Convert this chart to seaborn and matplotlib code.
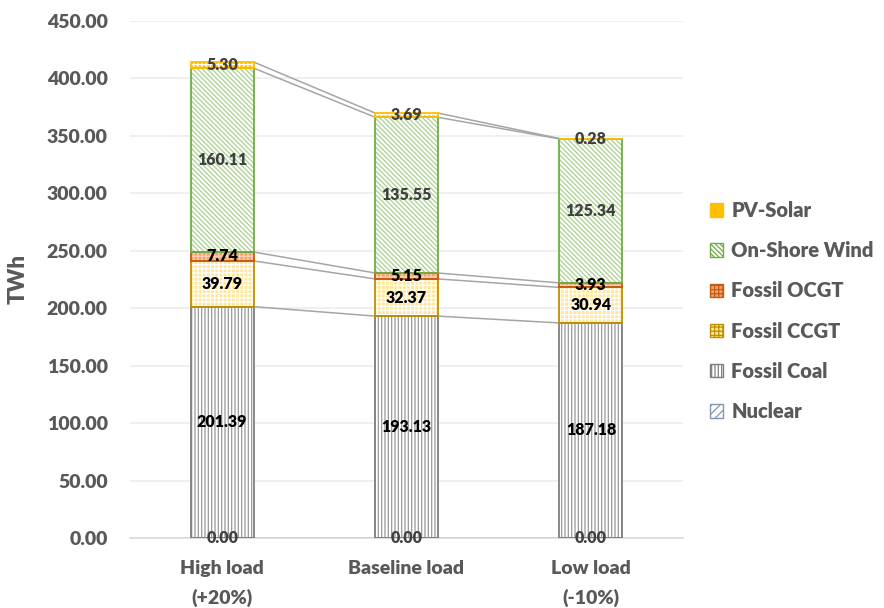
import matplotlib
matplotlib.use("Agg")
import matplotlib.pyplot as plt
from matplotlib.patches import Patch
import pandas as pd
import seaborn as sns

# Scenario categories and annual generation per technology (TWh)
scenarios = ["High load\n(+20%)", "Baseline load", "Low load\n(-10%)"]
nuclear = [0.00, 0.00, 0.00]
fossil_coal = [201.39, 193.13, 187.18]
fossil_ccgt = [39.79, 32.37, 30.94]
fossil_ocgt = [7.74, 5.15, 3.93]
onshore_wind = [160.11, 135.55, 125.34]
pv_solar = [5.30, 3.69, 0.28]
y_ticks = [0, 50, 100, 150, 200, 250, 300, 350, 400, 450]

series_names = ["Nuclear", "Fossil Coal", "Fossil CCGT", "Fossil OCGT",
                "On-Shore Wind", "PV-Solar"]
series_values = [nuclear, fossil_coal, fossil_ccgt, fossil_ocgt,
                 onshore_wind, pv_solar]

# fill colour, hatch, hatch colour, outline colour, label colour
styles = {
    "Nuclear":       ("white",   "////",     "#8497B0", "#8497B0", "#404040"),
    "Fossil Coal":   ("white",   "|||||",    "#9A9A9A", "#7F7F7F", "#000000"),
    "Fossil CCGT":   ("#FFE699", "++++",     "white",   "#BF9000", "#000000"),
    "Fossil OCGT":   ("#F4A070", "++++",     "#FAD2B8", "#C55A11", "#000000"),
    "On-Shore Wind": ("white",   "\\" * 7,   "#A9D18E", "#70AD47", "#404040"),
    "PV-Solar":      ("#FFC000", "++++",     "white",   "#FFC000", "#404040"),
}

HEAVY = 800

sns.set_style("white")
plt.rcParams["font.family"] = ["Lato", "DejaVu Sans"]
plt.rcParams["hatch.linewidth"] = 0.9

fig = plt.figure(figsize=(8.84, 6.08), dpi=100)
ax = fig.add_axes([130 / 884, 1 - 538 / 608, (683 - 130) / 884, (538 - 21) / 608])

bar_w = 0.34
bottoms = [0.0, 0.0, 0.0]
stack_info = []
for name, vals in zip(series_names, series_values):
    face, hatch, hcol, border, lcol = styles[name]
    df = pd.DataFrame({"scenario": scenarios, "twh": vals})
    sns.barplot(data=df, x="scenario", y="twh", order=scenarios,
                bottom=list(bottoms), width=bar_w, color=face, saturation=1,
                errorbar=None, ax=ax)
    for p in ax.containers[-1]:
        p.set_facecolor(face)
        p.set_edgecolor(hcol)
        p.set_linewidth(0)
        p.set_hatch(hatch)
        p.set_zorder(2)
    stack_info.append((name, list(bottoms), list(vals)))
    bottoms = [b + v for b, v in zip(bottoms, vals)]

# outlines on top of the hatched fills
for name, bots, vals in stack_info:
    face, hatch, hcol, border, lcol = styles[name]
    df = pd.DataFrame({"scenario": scenarios, "twh": vals})
    sns.barplot(data=df, x="scenario", y="twh", order=scenarios,
                bottom=bots, width=bar_w, color=face, saturation=1,
                errorbar=None, ax=ax)
    for p in ax.containers[-1]:
        p.set_facecolor("none")
        p.set_edgecolor(border)
        p.set_linewidth(1.3)
        p.set_zorder(3)

# series lines joining the top of each stacked segment
for name, bots, vals in stack_info:
    tops = [b + v for b, v in zip(bots, vals)]
    for i in range(len(scenarios) - 1):
        ax.plot([i + bar_w / 2, i + 1 - bar_w / 2], [tops[i], tops[i + 1]],
                color="#A5A5A5", lw=1.1, zorder=1.5, solid_capstyle="butt")

# value labels centred in every segment
for name, bots, vals in stack_info:
    lcol = styles[name][4]
    for i, (b, v) in enumerate(zip(bots, vals)):
        ax.text(i, b + v / 2, f"{v:.2f}", ha="center", va="center",
                fontsize=11.5, fontweight=HEAVY, color=lcol, zorder=5)

ax.set_ylim(0, 450)
ax.set_xlim(-0.5, 2.5)
ax.set_yticks(y_ticks)
ax.set_yticklabels([f"{t:.2f}" for t in y_ticks])
ax.set_xlabel("")
ax.set_ylabel("TWh", fontsize=16, fontweight=HEAVY, color="#595959", labelpad=13)
ax.tick_params(axis="y", length=0, pad=16, labelsize=14, labelcolor="#595959")
ax.tick_params(axis="x", length=0, pad=16, labelsize=14, labelcolor="#595959")
for lbl in ax.get_yticklabels():
    lbl.set_fontweight(HEAVY)
for lbl in ax.get_xticklabels():
    lbl.set_fontweight(HEAVY)
    lbl.set_linespacing(1.75)
for s in ["top", "right", "left"]:
    ax.spines[s].set_visible(False)
ax.spines["bottom"].set_color("#D9D9D9")
ax.spines["bottom"].set_linewidth(1.2)
ax.yaxis.grid(True, color="#EBEBEB", lw=1.1)
ax.set_axisbelow(True)

handles = []
for name in reversed(series_names):
    face, hatch, hcol, border, lcol = styles[name]
    handles.append(Patch(facecolor=face, edgecolor=border, hatch=hatch, lw=1))
leg = fig.legend(handles, list(reversed(series_names)), loc="upper left",
                 bbox_to_anchor=(692 / 884, 1 - 183 / 608), frameon=False,
                 handlelength=0.65, handleheight=0.65, handletextpad=0.4,
                 labelspacing=1.05, prop={"weight": HEAVY, "size": 14.5})
for t in leg.get_texts():
    t.set_color("#595959")

fig.savefig("out.png", dpi=100)
